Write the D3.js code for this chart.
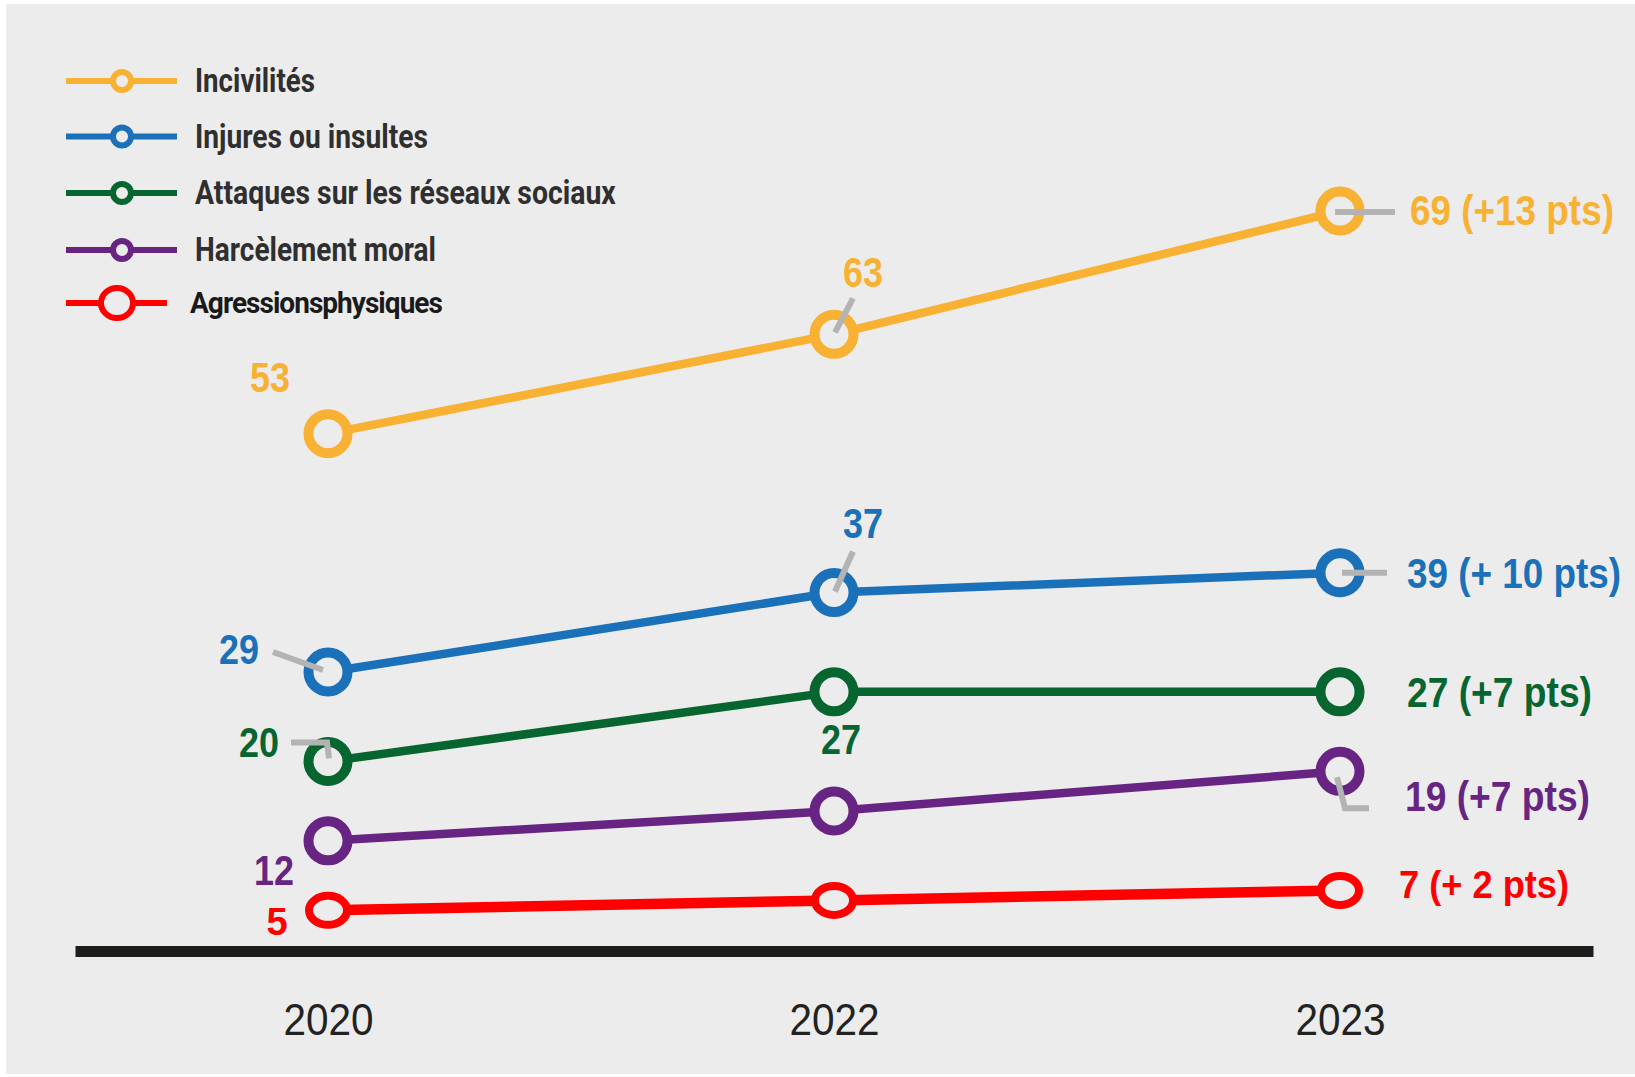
<!DOCTYPE html>
<html>
<head>
<meta charset="utf-8">
<script src="https://cdn.jsdelivr.net/npm/d3@7"></script>
<style>
  html, body { margin: 0; padding: 0; background: #ffffff; }
  svg { display: block; }
</style>
</head>
<body>
<svg id="chart" width="1635" height="1077"></svg>
<script>
// ---------- data ----------
const years = ["2020", "2022", "2023"];
const seriesNames = ["Incivilités", "Injures ou insultes", "Attaques sur les réseaux sociaux", "Harcèlement moral", "Agressionsphysiques"];
const incivilites = [53, 63, 69];
const injures = [29, 37, 39];
const attaques = [20, 27, 27];
const harcelement = [12, 15, 19];
const agressions = [5, 6, 7];
const endLabels = ["69 (+13 pts)", "39 (+ 10 pts)", "27 (+7 pts)", "19 (+7 pts)", "7 (+ 2 pts)"];
// point labels shown (null = no label)
const incivilitesLabels = ["53", "63", null];
const injuresLabels = ["29", "37", null];
const attaquesLabels = ["20", "27", null];
const harcelementLabels = ["12", null, null];
const agressionsLabels = ["5", null, null];

const seriesValues = [incivilites, injures, attaques, harcelement, agressions];
const seriesLabels = [incivilitesLabels, injuresLabels, attaquesLabels, harcelementLabels, agressionsLabels];
const colors = ["#F8B133", "#1B71B9", "#07662F", "#672483", "#FF0000"];

// ---------- layout (styling only) ----------
const W = 1635, H = 1077;
const BG = "#ECECEC";
const svg = d3.select("#chart");
svg.append("rect").attr("x", 6).attr("y", 4).attr("width", W - 6).attr("height", H - 7).attr("fill", BG);

const x = d3.scalePoint().domain(years).range([75, 1593]).padding(0.5);
const y = d3.scaleLinear().domain([0, 65, 69]).range([960, 314.5, 211]);

const condFont = "'Liberation Sans', Arial, sans-serif";

// label offsets (dx, dy) relative to points
const labelOffsets = [
  [[-58, -57], [29, -62], null],
  [[-89, -23], [29, -70], null],
  [[-69, -19], [7, 47], null],
  [[-54, 29], null, null],
  [[-51, 12], null, null]
];
const leaders = [
  [null, [[1, -2], [19, -36]], [[-5, 1], [55, 1]]],
  [[[-55, -20], [-5, -2]], [[19, -41], [1, -1]], [[2, 0], [47, 0]]],
  [[[-37, -19], [-1, -19], [1, -3]], null, null],
  [null, null, [[-3, 6], [5, 37], [29, 37]]],
  [null, null, null]
];
const endOffsets = [[70, -1], [67, 0], [67, 0], [65, 25], [59, -6]];
const endWidths = [204, 214, 185, 185, 170];
const endSizes = [42, 42, 42, 42, 38];
const legendY = [81, 136.5, 193, 250, 303];
const legendWidths = [120, 233, 421, 241, 252];

// helper: draw a text horizontally squeezed to a target width
function squeezed(parent, tx, ty, str, width, anchor) {
  const g = parent.append("g");
  const t = g.append("text").attr("x", 0).attr("y", 0)
    .attr("dominant-baseline", "central").text(str);
  return { g, t, fit: () => {
    const nat = t.node().getComputedTextLength();
    const sx = width / nat;
    const shift = anchor === "middle" ? -width / 2 : 0;
    g.attr("transform", `translate(${tx + shift},${ty}) scale(${sx},1)`);
  }};
}

// axis
const axis = d3.axisBottom(x).tickSizeInner(0).tickSizeOuter(0).tickPadding(0);
const gAxis = svg.append("g").attr("transform", "translate(0,951)").call(axis);
gAxis.select(".domain").attr("stroke", "#1D1D1B").attr("stroke-width", 11);
gAxis.selectAll(".tick text")
  .attr("y", 68).attr("dy", null)
  .attr("dominant-baseline", "central")
  .attr("fill", "#222222")
  .attr("textLength", 90).attr("lengthAdjust", "spacingAndGlyphs")
  .style("font-size", "45px")
  .style("font-family", condFont);

const line = d3.line().x((d, i) => x(years[i])).y(d => y(d));

seriesValues.forEach((vals, s) => {
  const g = svg.append("g");
  const isRed = s === 4;
  g.append("path").datum(vals).attr("d", line)
    .attr("fill", "none").attr("stroke", colors[s])
    .attr("stroke-width", isRed ? 10.5 : 8.5).attr("stroke-linejoin", "round");
  if (isRed) {
    g.selectAll("ellipse").data(vals).join("ellipse")
      .attr("cx", (d, i) => x(years[i])).attr("cy", d => y(d))
      .attr("rx", 19).attr("ry", 14.5)
      .attr("fill", BG).attr("stroke", colors[s]).attr("stroke-width", 8);
  } else {
    g.selectAll("circle").data(vals).join("circle")
      .attr("cx", (d, i) => x(years[i])).attr("cy", d => y(d))
      .attr("r", 19.5)
      .attr("fill", BG).attr("stroke", colors[s]).attr("stroke-width", 10);
  }
  // leaders
  vals.forEach((v, i) => {
    const L = leaders[s][i];
    if (!L) return;
    const px = x(years[i]), py = y(v);
    g.append("path")
      .attr("d", d3.line()(L.map(p => [px + p[0], py + p[1]])))
      .attr("fill", "none").attr("stroke", "#B3B3B3").attr("stroke-width", 6);
  });
  // point labels
  vals.forEach((v, i) => {
    const t = seriesLabels[s][i];
    if (!t) return;
    const o = labelOffsets[s][i];
    const txt = g.append("text")
      .attr("x", x(years[i]) + o[0]).attr("y", y(v) + o[1])
      .attr("text-anchor", "middle").attr("dominant-baseline", "central")
      .attr("fill", colors[s])
      .style("font-family", condFont)
      .style("font-size", isRed ? "38px" : "43px")
      .style("font-weight", "bold")
      .text(t);
    if (!isRed) txt.attr("textLength", 40).attr("lengthAdjust", "spacingAndGlyphs");
  });
  // end label (squeezed horizontally)
  const last = vals.length - 1;
  const lab = squeezed(g, x(years[last]) + endOffsets[s][0], y(vals[last]) + endOffsets[s][1], endLabels[s], endWidths[s], "start");
  lab.t.attr("fill", colors[s])
    .style("font-family", condFont)
    .style("font-weight", "bold")
    .style("font-size", endSizes[s] + "px");
  lab.fit();
});

// legend
const legend = svg.append("g");
seriesNames.forEach((name, s) => {
  const isRed = s === 4;
  const gy = legendY[s];
  legend.append("line").attr("x1", 66).attr("x2", isRed ? 167 : 177).attr("y1", gy).attr("y2", gy)
    .attr("stroke", colors[s]).attr("stroke-width", 6);
  if (isRed) {
    legend.append("ellipse").attr("cx", 117).attr("cy", gy).attr("rx", 16).attr("ry", 15)
      .attr("fill", BG).attr("stroke", colors[s]).attr("stroke-width", 6);
  } else {
    legend.append("circle").attr("cx", 122).attr("cy", gy).attr("r", 9)
      .attr("fill", BG).attr("stroke", colors[s]).attr("stroke-width", 6);
  }
  const lab = squeezed(legend, isRed ? 190 : 195, gy, name, legendWidths[s], "start");
  lab.t.attr("fill", isRed ? "#1a1a1a" : "#2f2f2f")
    .style("font-family", "Roboto, 'Liberation Sans', sans-serif")
    .style("font-size", isRed ? "29px" : "33px")
    .style("font-weight", "bold")
    .style("letter-spacing", isRed ? "-1px" : "0px");
  lab.fit();
});
</script>
</body>
</html>
